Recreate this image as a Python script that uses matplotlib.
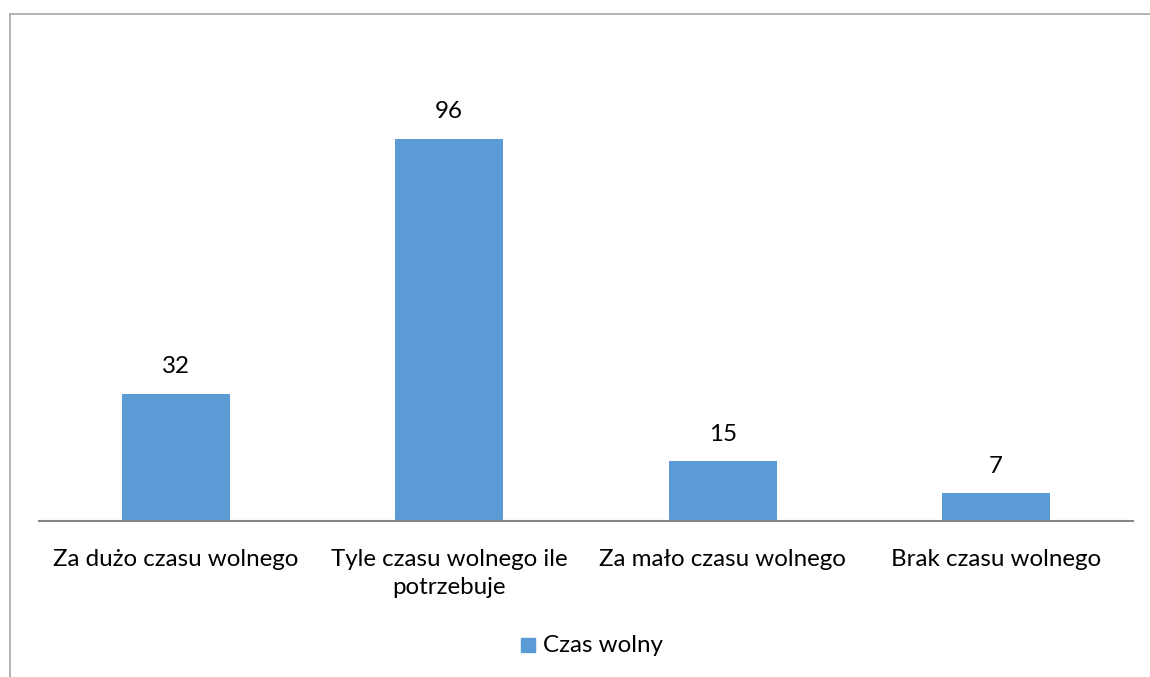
import matplotlib.pyplot as plt
from matplotlib.lines import Line2D
from matplotlib.patches import Rectangle

categories = ["Za dużo czasu wolnego", "Tyle czasu wolnego ile\npotrzebuje",
              "Za mało czasu wolnego", "Brak czasu wolnego"]
values = [32, 96, 15, 7]
series_name = "Czas wolny"

W, H = 1150, 677
plt.rcParams['font.family'] = ['Lato', 'DejaVu Sans']
FS = 17.4

fig = plt.figure(figsize=(W / 100, H / 100), dpi=100)
ax = fig.add_axes([39 / W, (H - 521) / H, (1133 - 39) / W, (521 - 43.4) / H])

x = list(range(len(categories)))
bars = ax.bar(x, values, width=0.395, color="#5B9BD5", zorder=2)
ax.set_xlim(-0.5, len(categories) - 0.5)
ax.set_ylim(0, 120)

for b, v in zip(bars, values):
    ax.annotate(str(v), (b.get_x() + b.get_width() / 2, v), xytext=(0, 27 * 0.72),
                textcoords="offset points", ha="center", va="center", fontsize=FS, color="#000000")

for s in ["top", "right", "left"]:
    ax.spines[s].set_visible(False)
ax.spines["bottom"].set_color("#868686")
ax.spines["bottom"].set_linewidth(1.5)
ax.set_yticks([])
ax.set_xticks(x)
ax.set_xticklabels(categories, fontsize=FS, linespacing=1.45)
ax.tick_params(axis="x", length=0, pad=20)
for t in ax.get_xticklabels():
    t.set_verticalalignment("top")

# outer chart frame (top and left edges visible)
fig.add_artist(Line2D([10 / W, 1], [(H - 14) / H] * 2, color="#a6a6a6", lw=1.2))
fig.add_artist(Line2D([10 / W] * 2, [0, (H - 14) / H], color="#a6a6a6", lw=1.2))

# legend
fig.add_artist(Rectangle((521 / W, (H - 652) / H), 14 / W, 14 / H, color="#5B9BD5"))
fig.text(543 / W, (H - 645) / H, series_name, fontsize=FS, va="center", ha="left")

fig.savefig("out.png", dpi=100)
